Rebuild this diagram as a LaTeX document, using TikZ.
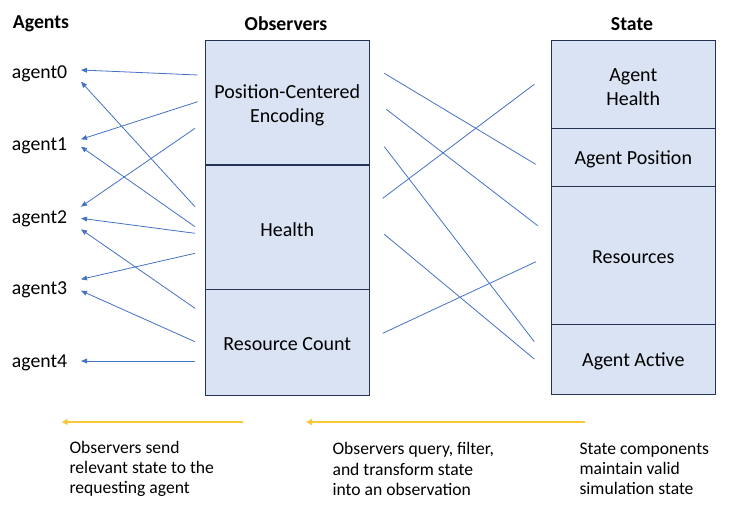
\documentclass[tikz,border=0pt]{standalone}
\usepackage{fontspec}
\setmainfont{Carlito}
\usetikzlibrary{arrows.meta}
\definecolor{boxfill}{RGB}{218,227,243}
\definecolor{boxline}{RGB}{38,52,84}
\definecolor{linkblue}{RGB}{68,114,196}
\definecolor{flowyellow}{RGB}{250,200,60}
\tikzset{
  cell/.style={draw=boxline, fill=boxfill, line width=0.75pt, minimum width=123pt, inner sep=0pt},
  celltext/.style={inner sep=0pt, align=center, font=\fontsize{15}{18}\selectfont, yshift=-1.5pt},
  header/.style={font=\fontsize{14.8}{18}\selectfont\bfseries, inner sep=0pt},
  agentlbl/.style={font=\fontsize{14.8}{18}\selectfont, inner sep=0pt, anchor=west},
  note/.style={font=\fontsize{13.2}{15.2}\selectfont, inner sep=0pt, anchor=west, align=left},
  sendarrow/.style={draw=linkblue, line width=0.6pt, -{Triangle[length=4.5pt,width=3.6pt]}},
  querylink/.style={draw=linkblue, line width=0.6pt},
  flowarrow/.style={draw=flowyellow, line width=1.5pt, -{Triangle[length=4.5pt,width=4.5pt]}}
}
\begin{document}
\begin{tikzpicture}[x=0.75pt,y=-0.75pt]
\useasboundingbox (0,0) rectangle (738,511);

% headers
\node[header] (hagents) at (41,24) {Agents};
\node[header] (hobs) at (286,24) {Observers};
\node[header] (hstate) at (632,24) {State};

% agents
\node[agentlbl] (agent0) at (11.7,74) {agent0};
\node[agentlbl] (agent1) at (11.7,146) {agent1};
\node[agentlbl] (agent2) at (11.7,218.5) {agent2};
\node[agentlbl] (agent3) at (11.7,290) {agent3};
\node[agentlbl] (agent4) at (11.7,362.5) {agent4};

% observers
\node[cell, minimum height=93.2pt] (pce) at (287.3,102.85) {};
\node[cell, minimum height=93.2pt] (ohealth) at (287.3,227.15) {};
\node[cell, minimum height=79.3pt] (rcount) at (287.3,342.15) {};
\draw[draw=boxline, line width=1.4pt] (pce.south west) -- (pce.south east);
\node[celltext] (pcetxt) at (pce.center) {Position-Centered\\Encoding};
\node[celltext] (ohealthtxt) at (ohealth.center) {Health};
\node[celltext] (rcounttxt) at (rcount.center) {Resource Count};

% state
\node[cell, minimum height=66pt] (shealth) at (633.3,84.7) {};
\node[cell, minimum height=43.2pt] (spos) at (633.3,157.5) {};
\node[cell, minimum height=103.5pt] (sres) at (633.3,255.3) {};
\node[cell, minimum height=53pt] (sactive) at (633.3,359.65) {};
\node[celltext] (shealthtxt) at (shealth.center) {Agent\\Health};
\node[celltext] (spostxt) at (spos.center) {Agent Position};
\node[celltext] (srestxt) at (sres.center) {Resources};
\node[celltext] (sactivetxt) at (sactive.center) {Agent Active};

% left arrow endpoints
\coordinate (s1) at (197.7,75);    \coordinate (e1) at (81,70);
\coordinate (s2) at (197.7,101.7); \coordinate (e2) at (81,139.3);
\coordinate (s3) at (195,128.3);   \coordinate (e3) at (81,206.7);
\coordinate (s4) at (195,206.7);   \coordinate (e4) at (81,81.7);
\coordinate (s5) at (195,226.7);   \coordinate (e5) at (81,146.7);
\coordinate (s6) at (195,233.3);   \coordinate (e6) at (81,218.3);
\coordinate (s7) at (195,253.3);   \coordinate (e7) at (81,279.3);
\coordinate (s8) at (195,308.3);   \coordinate (e8) at (81,229.3);
\coordinate (s9) at (195,341.7);   \coordinate (e9) at (81,290.7);
\coordinate (s10) at (195,361);    \coordinate (e10) at (81,361);
\foreach \i in {1,...,10} { \draw[sendarrow] (s\i) -- (e\i); }

% middle links
\coordinate (m1s) at (384.3,73.3);  \coordinate (m1e) at (535.7,164.3);
\coordinate (m2s) at (386.3,109.3); \coordinate (m2e) at (537.7,225.7);
\coordinate (m3s) at (384.3,146.7); \coordinate (m3e) at (534.3,341.7);
\coordinate (m4s) at (382.7,198.3); \coordinate (m4e) at (534.3,84.3);
\coordinate (m5s) at (384.3,234.3); \coordinate (m5e) at (534.3,359);
\coordinate (m6s) at (382.7,333.3); \coordinate (m6e) at (536,261.7);
\foreach \i in {1,...,6} { \draw[querylink] (m\i s) -- (m\i e); }

% flow arrows
\coordinate (f1s) at (242.7,422); \coordinate (f1e) at (61.7,422);
\coordinate (f2s) at (585,422);   \coordinate (f2e) at (306,422);
\draw[flowarrow] (f1s) -- (f1e);
\draw[flowarrow] (f2s) -- (f2e);

% notes
\node[note] (n1) at (69.3,469) {Observers send\\relevant state to the\\requesting agent};
\node[note] (n2) at (332.3,469) {Observers query, filter,\\and transform state\\into an observation};
\node[note] (n3) at (579.3,469) {State components\\maintain valid\\simulation state};
\end{tikzpicture}
\end{document}
